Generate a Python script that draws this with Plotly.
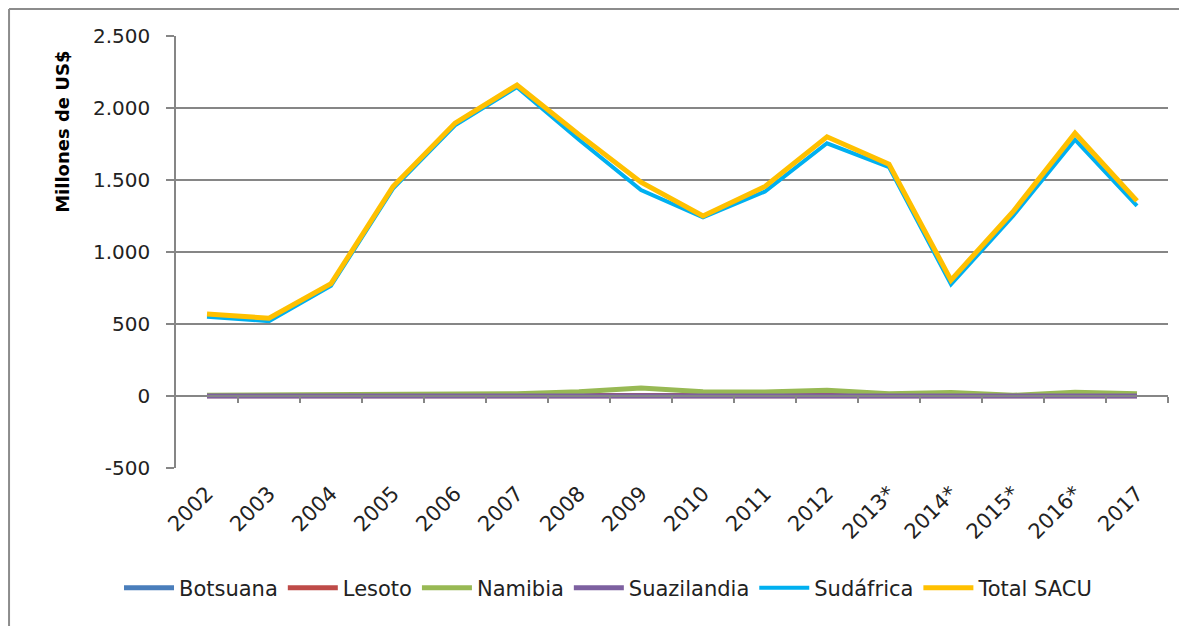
import plotly.graph_objects as go

categories = ["2002", "2003", "2004", "2005", "2006", "2007", "2008", "2009",
              "2010", "2011", "2012", "2013*", "2014*", "2015*", "2016*", "2017"]

botsuana = [3, 3, 4, 5, 5, 5, 6, 5, 4, 5, 6, 5, 4, 3, 4, 4]
lesoto = [1, 1, 2, 2, 2, 2, 3, 3, 2, 2, 3, 2, 2, 1, 2, 2]
namibia = [5, 6, 14, 16, 16, 16, 30, 55, 30, 28, 40, 15, 25, 5, 26, 15]
suazilandia = [0, 0, 0, 0, 0, 0, -6, -8, -5, -3, 0, 0, 0, 0, 0, 0]
sudafrica = [550, 520, 765, 1440, 1880, 2145, 1780, 1430, 1240, 1420, 1755, 1590, 775, 1250, 1780, 1320]
total_sacu = [570, 540, 780, 1455, 1895, 2160, 1815, 1485, 1250, 1455, 1800, 1610, 805, 1280, 1825, 1355]

series_names = ["Botsuana", "Lesoto", "Namibia", "Suazilandia", "Sudáfrica", "Total SACU"]
series_values = [botsuana, lesoto, namibia, suazilandia, sudafrica, total_sacu]
series_colors = ["#4A7EBB", "#BE4B48", "#98B954", "#7D60A0", "#00B0F0", "#FFC000"]
series_widths = [5, 5, 5, 5, 4, 5]

y_ticks = [-500, 0, 500, 1000, 1500, 2000, 2500]
y_ticktext = ["-500", "0", "500", "1.000", "1.500", "2.000", "2.500"]

xidx = list(range(len(categories)))

fig = go.Figure()
for name, vals, col, w in zip(series_names, series_values, series_colors, series_widths):
    fig.add_trace(go.Scatter(
        x=xidx, y=vals, mode="lines", name=name,
        line=dict(color=col, width=w),
    ))

# invisible trace to activate the zero-line category axis
fig.add_trace(go.Scatter(x=[xidx[0]], y=[0], xaxis="x2", showlegend=False,
                         mode="markers", marker=dict(opacity=0), hoverinfo="skip"))

x_range = [-0.5, len(categories) - 0.5]
boundaries = [i + 0.5 for i in range(len(categories))]

fig.update_layout(
    width=1179, height=618,
    paper_bgcolor="white", plot_bgcolor="white",
    margin=dict(l=168, r=19, t=28, b=158, autoexpand=False),
    showlegend=True,
    legend=dict(
        orientation="h", x=0.436, xanchor="center", y=-0.278, yanchor="middle",
        font=dict(family="DejaVu Sans", size=21, color="#222222"),
        itemwidth=50, tracegroupgap=0,
    ),
    xaxis=dict(
        range=x_range, tickmode="array", tickvals=xidx, ticktext=categories,
        tickangle=-45, tickfont=dict(family="DejaVu Sans", size=21, color="#222222"),
        showgrid=False, zeroline=False, showline=False, ticks="",
        automargin=False, ticklabelstandoff=8,
    ),
    xaxis2=dict(
        overlaying="x", anchor="free", position=1/6, side="bottom",
        range=x_range, tickmode="array", tickvals=boundaries,
        showticklabels=False, ticks="outside", ticklen=6, tickwidth=1.5,
        tickcolor="#868686", showline=True, linecolor="#868686", linewidth=1.5,
        showgrid=False, zeroline=False, automargin=False,
    ),
    yaxis=dict(
        range=[-500, 2500], tickmode="array", tickvals=y_ticks, ticktext=y_ticktext,
        tickfont=dict(family="DejaVu Sans", size=20, color="#222222"),
        showgrid=True, gridcolor="#868686", gridwidth=1.5,
        zeroline=False, showline=True, linecolor="#868686", linewidth=1.5,
        ticks="outside", ticklen=8, tickcolor="#868686", tickwidth=1.5,
        automargin=False, ticklabelstandoff=12,
    ),
    annotations=[dict(
        text="<b>Millones de US$</b>", textangle=-90, xref="paper", yref="paper",
        x=-0.114, y=0.778, xanchor="center", yanchor="middle", showarrow=False,
        font=dict(family="DejaVu Sans", size=18, color="#000000"),
    )],
    shapes=[
        dict(type="line", xref="paper", yref="paper", x0=-0.1683, x1=1.05,
             y0=1.0625, y1=1.0625, line=dict(color="#8c8c8c", width=2)),
        dict(type="line", xref="paper", yref="paper", x0=-0.1683, x1=-0.1683,
             y0=1.0625, y1=-0.5, line=dict(color="#8c8c8c", width=2)),
    ],
)

fig.write_html("out.html")
